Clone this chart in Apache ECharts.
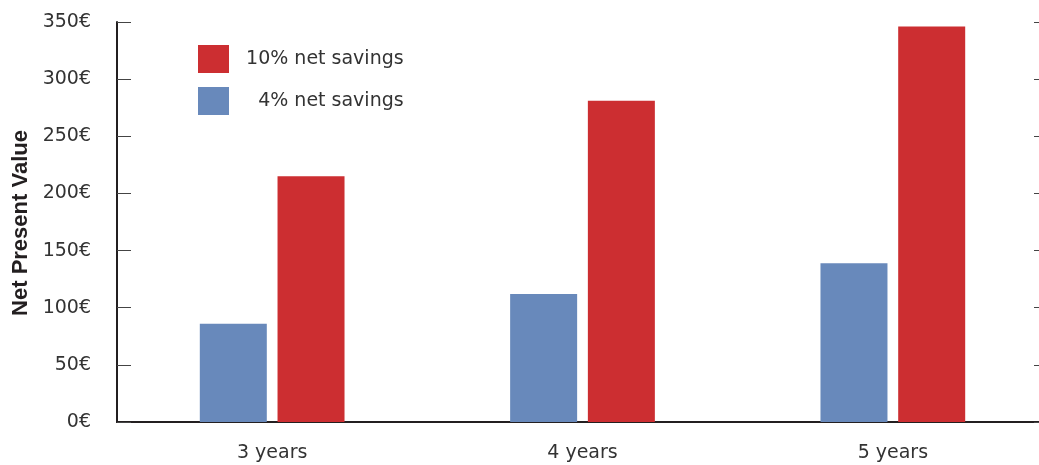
<!DOCTYPE html>
<html>
<head>
<meta charset="utf-8">
<script src="https://cdn.jsdelivr.net/npm/echarts@6/dist/echarts.min.js"></script>
<style>
html,body{margin:0;padding:0;background:#fff;}
#c{width:1039px;height:465px;}
</style>
</head>
<body>
<div id="c"></div>
<script>
var categories = ['3 years', '4 years', '5 years'];
var savings4 = [86, 112, 139];
var savings10 = [215, 281, 346];
var seriesNames = ['4% net savings', '10% net savings'];
var yTitle = 'Net Present Value';
var yMin = 0, yMax = 350, yInterval = 50;

var chart = echarts.init(document.getElementById('c'), null, {renderer: 'canvas'});
var txt = '#333333';
var axisCol = '#231f20';
var font = 'DejaVu Sans';

var option = {
  animation: false,
  backgroundColor: '#ffffff',
  grid: {left: 117, top: 22, width: 931, height: 400, containLabel: false, outerBoundsMode: 'none'},
  legend: {
    orient: 'vertical',
    left: 198,
    top: 45,
    padding: 0,
    itemWidth: 31,
    itemHeight: 28,
    itemGap: 14,
    icon: 'rect',
    data: [seriesNames[1], seriesNames[0]],
    formatter: function (n) { return n === seriesNames[0] ? '    ' + n : '  ' + n; },
    textStyle: {fontFamily: font, fontSize: 19, color: txt}
  },
  xAxis: [{
    type: 'category',
    data: categories,
    position: 'bottom',
    axisLine: {lineStyle: {color: axisCol, width: 2}},
    axisTick: {inside: true, length: 10, lineStyle: {color: axisCol, width: 1}},
    axisLabel: {fontFamily: font, fontSize: 19, color: txt, margin: 22}
  }, {
    type: 'category',
    data: categories,
    position: 'top',
    axisLine: {lineStyle: {color: axisCol, width: 2}},
    axisTick: {show: false},
    axisLabel: {show: false}
  }],
  yAxis: [{
    type: 'value',
    min: yMin, max: yMax, interval: yInterval,
    position: 'left',
    axisLine: {show: true, lineStyle: {color: axisCol, width: 2}},
    axisTick: {show: true, inside: true, length: 14, lineStyle: {color: '#444', width: 1}},
    splitLine: {show: false},
    axisLabel: {fontFamily: font, fontSize: 19, color: txt, margin: 26, formatter: '{value}€'}
  }, {
    type: 'value',
    min: yMin, max: yMax, interval: yInterval,
    position: 'right',
    axisLine: {show: true, lineStyle: {color: axisCol, width: 2}},
    axisTick: {show: true, inside: true, length: 14, lineStyle: {color: '#444', width: 1}},
    splitLine: {show: false},
    axisLabel: {show: false}
  }],
  series: [{
    name: seriesNames[0],
    type: 'bar',
    data: savings4,
    barWidth: 67,
    barGap: '16%',
    itemStyle: {color: '#6889bb'}
  }, {
    name: seriesNames[1],
    type: 'bar',
    data: savings10,
    barWidth: 67,
    barGap: '16%',
    itemStyle: {color: '#cc2e31'}
  }],
  graphic: [{
    type: 'text',
    x: 21,
    y: 223,
    rotation: Math.PI / 2,
    style: {
      text: yTitle,
      font: 'bold 22px "Liberation Sans"',
      fill: '#231f20',
      textAlign: 'center',
      textVerticalAlign: 'middle'
    }
  }]
};
chart.setOption(option);
</script>
</body>
</html>
